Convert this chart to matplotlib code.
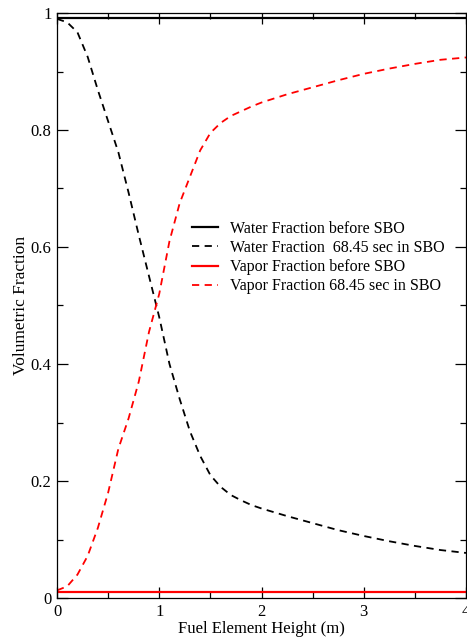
import numpy as np
import matplotlib.pyplot as plt
from matplotlib.ticker import MultipleLocator, FuncFormatter

# fuel element height (m)
height = [0.0, 0.1, 0.2, 0.3, 0.4, 0.5, 0.6, 0.7, 0.8, 0.9, 1.0, 1.1, 1.2, 1.3, 1.4,
          1.5, 1.6, 1.7, 1.8, 1.9, 2.0, 2.25, 2.5, 2.75, 3.0, 3.25, 3.5, 3.75, 4.0]

water_sbo = [0.99, 0.984, 0.967, 0.925, 0.868, 0.815, 0.762, 0.693, 0.62, 0.55, 0.48, 0.40,
             0.34, 0.285, 0.243, 0.21, 0.19, 0.176, 0.167, 0.159, 0.153, 0.14, 0.128,
             0.116, 0.106, 0.097, 0.089, 0.082, 0.077]

vapor_sbo = [0.013, 0.02, 0.04, 0.072, 0.12, 0.18, 0.255, 0.307, 0.37, 0.455, 0.52, 0.61,
             0.675, 0.72, 0.765, 0.795, 0.812, 0.824, 0.832, 0.84, 0.847, 0.861, 0.873,
             0.885, 0.896, 0.905, 0.913, 0.92, 0.924]

height_before = [0.0, 4.0]
water_before = [0.991, 0.991]
vapor_before = [0.0103, 0.0103]

plt.rcParams['font.family'] = ['Liberation Serif', 'DejaVu Serif']

fig = plt.figure(figsize=(4.67, 6.39), dpi=100)
ax = fig.add_axes([57 / 467, 41 / 639, 409 / 467, 585 / 639])

ax.plot(height_before, water_before, color='black', lw=1.6,
        label='Water Fraction before SBO')
ax.plot(height, water_sbo, color='black', lw=1.3, dashes=(4, 3),
        label='Water Fraction  68.45 sec in SBO')
ax.plot(height_before, vapor_before, color='red', lw=1.6,
        label='Vapor Fraction before SBO')
ax.plot(height, vapor_sbo, color='red', lw=1.3, dashes=(4, 3),
        label='Vapor Fraction 68.45 sec in SBO')

ax.set_xlim(0, 4)
ax.set_ylim(0, 1)
ax.xaxis.set_major_locator(MultipleLocator(1))
ax.xaxis.set_minor_locator(MultipleLocator(0.5))
ax.yaxis.set_major_locator(MultipleLocator(0.2))
ax.yaxis.set_minor_locator(MultipleLocator(0.1))
ax.yaxis.set_major_formatter(FuncFormatter(lambda v, p: f'{v:g}'))
ax.xaxis.set_major_formatter(FuncFormatter(lambda v, p: f'{v:g}'))

ax.tick_params(which='both', direction='in', top=True, right=True, width=0.9)
ax.tick_params(which='major', length=8, labelsize=12, pad=4)
ax.tick_params(which='minor', length=4.5)
for s in ax.spines.values():
    s.set_linewidth(0.9)

ax.set_xlabel('Fuel Element Height (m)', fontsize=12, labelpad=1)
ax.set_ylabel('Volumetric Fraction', fontsize=12.5, labelpad=1)

ax.legend(loc='center left', bbox_to_anchor=(0.295, 0.582), frameon=False,
          fontsize=11.5, handlelength=1.6, handletextpad=0.8, labelspacing=0.2)

fig.savefig('out.png', dpi=100)
